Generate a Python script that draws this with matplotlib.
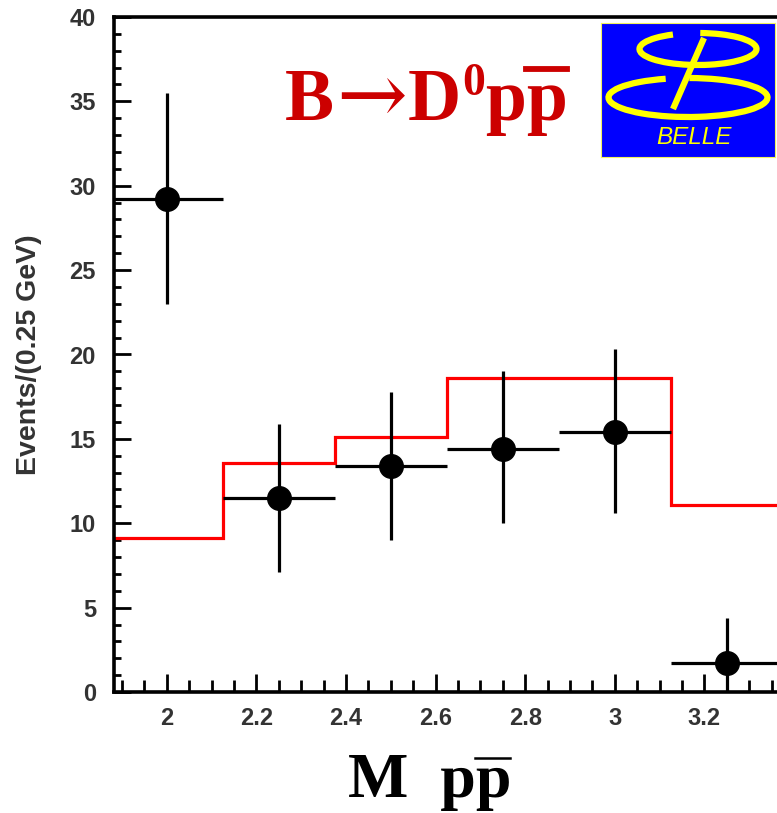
import matplotlib
matplotlib.use('Agg')
import matplotlib.pyplot as plt
from matplotlib.ticker import MultipleLocator, FixedLocator, FixedFormatter
from matplotlib.patches import Arc, Rectangle
from matplotlib.lines import Line2D

# ---------------- data ----------------
mass = [2.0, 2.25, 2.5, 2.75, 3.0, 3.25]
events = [29.2, 11.5, 13.4, 14.4, 15.4, 1.7]
err_low = [6.2, 4.4, 4.4, 4.4, 4.8, 1.7]
err_high = [6.3, 4.4, 4.4, 4.6, 4.9, 2.7]
bin_width = 0.25
model_edges = [1.875, 2.125, 2.375, 2.625, 2.875, 3.125, 3.375]
model_counts = [9.1, 13.6, 15.1, 18.6, 18.6, 11.1]
x_ticks = [2.0, 2.2, 2.4, 2.6, 2.8, 3.0, 3.2]
x_tick_labels = ['2', '2.2', '2.4', '2.6', '2.8', '3', '3.2']
y_ticks = [0, 5, 10, 15, 20, 25, 30, 35, 40]
y_tick_labels = [str(v) for v in y_ticks]

W, H = 777, 813
fig = plt.figure(figsize=(W / 100, H / 100), dpi=100)

def fx(px):
    return px / W

def fy(py):
    return 1 - py / H

ax = fig.add_axes([fx(114), fy(692), fx(777) - fx(114), fy(17) - fy(692)])
ax.set_xlim(1.882, 3.362)
ax.set_ylim(0, 40)

ax.stairs(model_counts, model_edges, baseline=None, color='#ff0000', lw=2.3, zorder=2)
ax.errorbar(mass, events, xerr=bin_width / 2, yerr=[err_low, err_high], fmt='o',
            color='black', ms=17, elinewidth=2.3, capsize=0, zorder=3)

for s in ['left', 'bottom', 'top']:
    ax.spines[s].set_linewidth(2.6)
ax.spines['right'].set_visible(False)

ax.xaxis.set_major_locator(FixedLocator(x_ticks))
ax.xaxis.set_major_formatter(FixedFormatter(x_tick_labels))
ax.xaxis.set_minor_locator(MultipleLocator(0.05))
ax.yaxis.set_major_locator(FixedLocator(y_ticks))
ax.yaxis.set_major_formatter(FixedFormatter(y_tick_labels))
ax.yaxis.set_minor_locator(MultipleLocator(1))

ax.tick_params(which='both', direction='in', width=2.0, top=False, right=False,
               colors='black', labelcolor='#333333')
ax.xaxis.set_tick_params(which='major', length=13, pad=11)
ax.xaxis.set_tick_params(which='minor', length=8.5)
ax.yaxis.set_tick_params(which='major', length=12.5, pad=13)
ax.yaxis.set_tick_params(which='minor', length=5)
for lab in ax.get_xticklabels() + ax.get_yticklabels():
    lab.set_fontfamily('Liberation Sans')
    lab.set_fontweight('bold')
    lab.set_fontsize(17)

fig.text(fx(29), fy(355), 'Events/(0.25 GeV)', rotation=90, ha='center', va='center',
         fontsize=20.5, family='Liberation Sans', fontweight='bold', color='#333333')

# ---------------- title and x label ----------------
fig.canvas.draw()
r = fig.canvas.get_renderer()

def piece(txt, x_px, base_px, size, color, family=None, weight='bold'):
    if family is None:
        family = ['Liberation Serif', 'DejaVu Serif']
    t = fig.text(fx(x_px), fy(base_px), txt, ha='left', va='baseline', fontsize=size,
                 family=family, fontweight=weight, color=color)
    bb = t.get_window_extent(renderer=r)
    return bb

red = '#cc0000'
tsize = 53
bb = piece('B', 285, 120, tsize, red)
x = bb.x1
bb = piece('\u2192', x + 2, 123, tsize * 1.15, red, family=['DejaVu Serif'], weight='normal')
x = bb.x1
bb = piece('D', x + 1, 120, tsize, red)
x = bb.x1
bb = piece('0', x + 1, 95, tsize * 0.62, red)
x = bb.x1
bb = piece('p', x, 120, tsize, red)
x = bb.x1
bb = piece('p', x, 120, tsize, red)
fig.add_artist(Line2D([bb.x0 / W, bb.x1 / W], [fy(69), fy(69)], color=red, lw=4.2,
                      transform=fig.transFigure))

xsize = 46
bb = piece('M  p', 348, 797, xsize, 'black')
x = bb.x1
bb = piece('p', x - 1, 797, xsize, 'black')
fig.add_artist(Line2D([bb.x0 / W, bb.x1 / W], [fy(758), fy(758)], color='black', lw=1.8,
                      transform=fig.transFigure))

# ---------------- BELLE logo ----------------
lx0, ly0, lx1, ly1 = 601, 23, 775, 157
lax = fig.add_axes([fx(lx0), fy(ly1), fx(lx1) - fx(lx0), fy(ly0) - fy(ly1)])
lw_, lh_ = lx1 - lx0, ly1 - ly0
lax.set_xlim(0, lw_)
lax.set_ylim(0, lh_)
lax.set_facecolor('#0000ff')
lax.set_xticks([])
lax.set_yticks([])
for s in lax.spines.values():
    s.set_color('#f0f060')
    s.set_linewidth(0.8)
yel = '#ffff00'
lax.add_patch(Arc((97, lh_ - 26), 117, 32, theta1=150, theta2=82, color=yel, lw=4.5))
lax.add_patch(Arc((87, lh_ - 74.5), 159, 39, theta1=140, theta2=86, color=yel, lw=4.5))
lax.plot([103, 72], [lh_ - 15, lh_ - 86], color=yel, lw=4.5, solid_capstyle='butt')
lax.text(93, lh_ - 114, 'BELLE', color=yel, fontsize=17.5, style='italic',
         family='Liberation Sans', ha='center', va='center')

fig.savefig('out.png', dpi=100)
